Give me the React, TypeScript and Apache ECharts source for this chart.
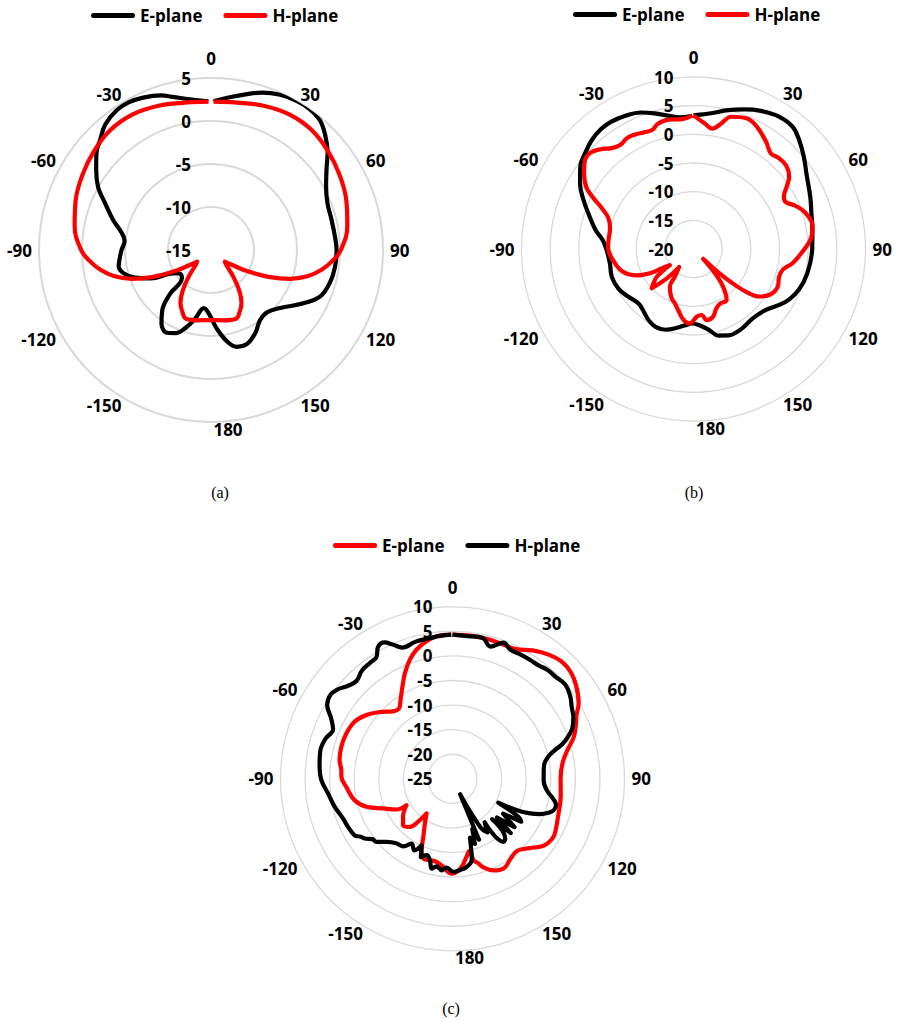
import React, { useEffect, useRef } from "react";
import * as echarts from "echarts";

// ---------- tick labels ----------
const angleTicks = [0, 30, 60, 90, 120, 150, 180, 210, 240, 270, 300, 330];
const angleTickLabels = ["0", "30", "60", "90", "120", "150", "180", "-150", "-120", "-90", "-60", "-30"];
const legendNames = ["E-plane", "H-plane"];
const captions = ["(a)", "(b)", "(c)"];

// ---------- panel (a) ----------
const aRange = [-15, 5];
const aEAngles = [1, 7, 13, 18, 24, 30, 35, 40, 45, 50, 55, 61, 68, 76, 84, 90, 98, 105, 113, 120, 130, 138, 145, 152, 159, 165, 170, 176, 181, 187, 193, 198, 203, 208, 214, 219, 223, 226, 231, 236, 240, 245, 250, 255, 260, 264, 270, 276, 281, 287, 294, 299, 305, 310, 315, 320, 326, 331, 336, 342, 346, 352, 359];
const aEValues = [2.3, 2.9, 3.6, 4.25, 4.75, 5.0, 5.0, 4.7, 3.8, 2.7, 1.4, 0.3, -0.4, -0.55, -0.5, -0.4, -0.45, -0.65, -1.2, -2.6, -4.5, -5.25, -5.05, -4.05, -3.3, -3.35, -4.2, -5.9, -7.4, -8.2, -6.8, -5.5, -4.5, -4.1, -4.7, -6.0, -8.0, -10.3, -10.5, -10.2, -9.5, -7.2, -5.6, -4.5, -4.1, -4.3, -4.6, -4.9, -4.4, -3.1, -1.5, 0.0, 1.3, 2.4, 3.2, 4.1, 4.6, 4.65, 4.4, 3.9, 3.35, 2.7, 2.3];
const aHAngles = [1, 10, 20, 30, 40, 50, 60, 70, 80, 90, 95, 100, 105, 110, 115, 120, 125, 130, 135, 140, 145, 150, 155, 160, 170, 180, 190, 200, 205, 210, 215, 220, 225, 230, 235, 240, 245, 250, 255, 260, 265, 270, 280, 290, 300, 310, 320, 330, 340, 350, 359];
const aHValues = [2.25, 2.4, 2.85, 3.2, 3.2, 2.8, 2.3, 1.75, 1.1, 0.1, -0.8, -1.9, -3.3, -5.2, -7.6, -10.0, -11.9, -12.9, -12.4, -11.0, -9.3, -7.9, -7.1, -6.5, -6.7, -6.85, -6.7, -6.5, -7.1, -7.9, -9.3, -11.0, -12.4, -12.9, -11.9, -10.0, -7.6, -5.2, -3.3, -1.9, -0.8, 0.1, 1.1, 1.75, 2.3, 2.8, 3.2, 3.2, 2.85, 2.4, 2.25];

// ---------- panel (b) ----------
const bRange = [-20, 10];
const bEAngles = [0, 4, 8, 14, 20, 26, 33, 39, 44, 50, 57, 66, 73, 81, 90, 102, 111, 120, 130, 140, 149, 158, 164, 169, 176, 181, 186, 193, 199, 206, 212, 218, 225, 234, 242, 251, 260, 267, 272, 276, 281, 287, 294, 300, 306, 312, 317, 322, 327, 333, 339, 344, 349, 354, 359.5];
const bEValues = [3.3, 3.55, 3.95, 4.95, 5.9, 6.8, 7.5, 7.45, 6.5, 5.1, 3.55, 2.3, 1.5, 1.0, 0.7, 0.3, -0.3, -1.5, -3.5, -4.1, -3.75, -3.75, -4.3, -5.6, -6.7, -7.0, -6.65, -5.8, -5.1, -4.9, -5.3, -6.0, -6.5, -5.9, -5.2, -4.95, -5.2, -5.0, -4.6, -4.0, -2.6, -1.1, 1.0, 2.85, 4.4, 5.3, 6.0, 6.4, 6.45, 6.1, 5.5, 4.6, 3.7, 3.1, 3.25];
const bHAngles = [0, 5, 9, 12, 16, 22, 27, 34, 39, 43, 48, 53, 56, 60, 63, 67, 72, 79, 85, 91, 98, 103, 108, 114, 121, 126, 129, 131, 133, 135.5, 138.5, 142, 147, 154, 159, 164, 169.5, 173, 177, 183, 188, 194, 199, 204, 212, 214, 218.7, 222, 226.8, 230, 233, 235.8, 238.7, 241, 245, 252, 260, 271, 276, 284, 290, 294, 297, 300, 305, 309, 313, 317, 321, 325, 329, 333, 337, 341, 344, 349, 355, 359.5];
const bHValues = [3.3, 2.0, 1.25, 2.2, 4.0, 4.6, 4.1, 2.6, 1.45, 1.75, 1.75, 0.9, -0.35, -1.8, -1.95, -0.7, 0.5, 1.15, 0.55, -0.9, -2.5, -4.0, -4.3, -3.9, -4.5, -5.9, -8.0, -10.5, -13.5, -17.6, -14.3, -11.6, -9.4, -9.4, -8.9, -7.7, -7.4, -8.4, -8.2, -7.0, -7.5, -9.0, -10.0, -10.6, -12.2, -14.2, -16.0, -13.3, -10.0, -11.0, -12.0, -15.0, -13.5, -11.3, -9.1, -7.1, -6.05, -5.1, -5.1, -5.0, -4.2, -2.5, -0.4, 1.6, 3.3, 4.4, 4.6, 3.8, 2.65, 2.2, 2.55, 2.4, 2.1, 2.0, 2.7, 3.0, 2.75, 3.25];

// ---------- panel (c) ----------
const cRange = [-25, 10];
const cEAngles = [0, 7, 14, 21, 26, 32, 38, 43, 48, 53, 59, 63, 66, 71, 76, 82, 90, 99, 108, 116, 120, 124, 127, 132, 138, 144, 150, 156, 161, 163, 165.5, 166.5, 170, 174, 177.5, 180.5, 186, 191, 195.5, 200, 203.4, 206.7, 211.7, 216.8, 218.3, 221.6, 226.8, 232.4, 240.2, 241.3, 246.9, 252, 257.7, 265.7, 271, 274.5, 279.5, 286, 293, 300.4, 306.6, 312.5, 318.6, 323, 326.7, 331.6, 335.8, 340.3, 344.5, 349.3, 353.6, 359.5];
const cEValues = [4.35, 4.35, 4.3, 4.2, 4.35, 5.8, 7.0, 7.6, 7.4, 6.5, 4.95, 3.3, 2.5, 1.1, -0.9, -2.4, -3.0, -2.7, -2.3, -1.6, -1.3, -1.6, -2.2, -3.9, -5.3, -4.9, -4.0, -4.6, -6.0, -7.0, -7.9, -10.0, -8.8, -7.0, -6.0, -5.7, -7.0, -7.8, -7.8, -7.7, -9.2, -11.8, -14.3, -16.2, -14.3, -11.9, -11.2, -12.3, -14.2, -12.0, -9.65, -6.6, -4.6, -3.3, -2.4, -2.3, -1.7, -1.45, -1.5, -1.95, -3.2, -4.9, -6.7, -7.0, -5.75, -3.6, -1.4, 0.75, 2.3, 3.5, 4.2, 4.35];
const cHAngles = [0, 6, 12, 16, 20.5, 24, 29, 33, 37, 41, 45, 50, 55, 59, 63, 67, 70, 72.5, 74.5, 77, 81, 86, 91, 97, 101, 104, 107, 109.5, 112, 114, 116, 117.5, 120, 122, 124.5, 128, 131, 133, 135.5, 138.5, 141, 143.5, 147, 150, 153.7, 156.5, 158.5, 161, 163.5, 166.7, 170.8, 175.3, 179.5, 183.8, 186.8, 190.3, 193.1, 195.5, 198.7, 202, 205, 208, 212.3, 216, 221, 226.3, 230.3, 233, 235.8, 238, 240, 245.3, 250.1, 256.7, 263.3, 269.5, 276, 282, 287.5, 292.5, 296.5, 300.5, 304.5, 308, 311.5, 315.5, 320, 324.5, 328, 330.5, 333.5, 336, 339, 345, 351, 355, 359.5];
const cHValues = [4.35, 4.2, 4.35, 3.0, 4.6, 3.8, 3.85, 3.9, 3.95, 4.4, 4.5, 4.9, 4.25, 3.3, 2.6, 1.5, 0.0, -1.6, -3.5, -5.0, -6.1, -6.4, -6.45, -5.65, -4.2, -3.3, -3.4, -4.3, -5.8, -7.7, -10.4, -14.5, -9.5, -8.5, -12.5, -9.0, -13.0, -8.8, -13.5, -8.8, -8.5, -14.0, -12.0, -13.5, -21.5, -11.5, -14.0, -11.0, -12.5, -8.0, -6.85, -6.35, -6.05, -6.9, -6.25, -6.9, -6.25, -7.8, -8.6, -7.8, -10.1, -8.5, -9.4, -8.0, -7.6, -6.4, -4.9, -4.6, -3.4, -2.8, -2.0, -1.6, -1.3, -0.35, 0.5, 1.7, 2.2, 2.5, 2.1, 1.3, 2.6, 4.6, 5.15, 4.6, 3.5, 2.9, 3.7, 3.95, 4.2, 5.8, 6.0, 4.9, 3.6, 3.9, 4.0, 4.2, 4.35];

// ---------- layout / style ----------
const RED = "#ff0000";
const BLACK = "#000000";
const GRID = "#d9d9d9";
const FONT = '"Open Sans", "Liberation Sans", sans-serif';
const RADIUS = 172;
const LABEL_R = 179;
const LEGEND_ICON = "path://M2.5,0H41.5A2.5,2.5,0,0,1,41.5,5H2.5A2.5,2.5,0,0,1,2.5,0Z";

type SeriesDef = { name: string; angles: number[]; values: number[]; color: string };
type PanelDef = {
  left: number; top: number; width: number; height: number;
  cx: number; cy: number; range: number[]; gridWidth: number;
  legendLeft: number; legendTop: number;
  caption: string; captionX: number; captionY: number;
  series: SeriesDef[];
};

const panels: PanelDef[] = [
  {
    left: 0, top: 0, width: 449, height: 510, cx: 211, cy: 250, range: aRange, gridWidth: 2,
    legendLeft: 91, legendTop: 7, caption: captions[0], captionX: 220, captionY: 492,
    series: [
      { name: legendNames[0], angles: aEAngles, values: aEValues, color: BLACK },
      { name: legendNames[1], angles: aHAngles, values: aHValues, color: RED },
    ],
  },
  {
    left: 449, top: 0, width: 449, height: 510, cx: 244.5, cy: 249, range: bRange, gridWidth: 1.3,
    legendLeft: 124, legendTop: 6, caption: captions[1], captionX: 245, captionY: 492,
    series: [
      { name: legendNames[0], angles: bEAngles, values: bEValues, color: BLACK },
      { name: legendNames[1], angles: bHAngles, values: bHValues, color: RED },
    ],
  },
  {
    left: 225, top: 520, width: 449, height: 502, cx: 227.5, cy: 258.8, range: cRange, gridWidth: 1.3,
    legendLeft: 108, legendTop: 17, caption: captions[2], captionX: 226, captionY: 488,
    series: [
      { name: legendNames[0], angles: cEAngles, values: cEValues, color: RED },
      { name: legendNames[1], angles: cHAngles, values: cHValues, color: BLACK },
    ],
  },
];

function buildOption(p: PanelDef): any {
  const labelGraphics = angleTicks.map((a, i) => {
    const rad = (a * Math.PI) / 180;
    const s = Math.sin(rad);
    let x = p.cx + LABEL_R * s;
    let y = p.cy - LABEL_R * Math.cos(rad);
    const align = Math.abs(s) < 0.3 ? "center" : s > 0 ? "left" : "right";
    if (a === 0) y -= 12.7;
    if (a === 180) x += 17;
    return {
      type: "text", x, y, silent: true,
      style: {
        text: angleTickLabels[i], fill: "#000", align, verticalAlign: "middle",
        fontFamily: FONT, fontWeight: "bold", fontSize: 17,
      },
    };
  });
  return {
    animation: false,
    backgroundColor: "#ffffff",
    textStyle: { fontFamily: FONT },
    legend: {
      left: p.legendLeft, top: p.legendTop, orient: "horizontal", padding: 0,
      itemWidth: 44, itemHeight: 5, itemGap: 21, selectedMode: false,
      icon: LEGEND_ICON,
      data: legendNames,
      textStyle: { fontFamily: FONT, fontWeight: "bold", fontSize: 17, color: "#000" },
    },
    polar: { center: [p.cx, p.cy], radius: RADIUS },
    angleAxis: {
      type: "value", min: 0, max: 360, interval: 30, startAngle: 90, clockwise: true,
      axisLine: { show: false }, axisTick: { show: false }, axisLabel: { show: false },
      splitLine: { show: false },
    },
    radiusAxis: {
      type: "value", min: p.range[0], max: p.range[1], interval: 5,
      axisLine: { show: false }, axisTick: { show: false },
      axisLabel: {
        inside: true, margin: 20, color: "#000",
        fontFamily: FONT, fontWeight: "bold", fontSize: 17,
      },
      splitLine: { show: true, lineStyle: { color: GRID, width: p.gridWidth } },
    },
    graphic: [
      ...labelGraphics,
      {
        type: "text", x: p.captionX, y: p.captionY, silent: true,
        style: {
          text: p.caption, fill: "#000", align: "center", verticalAlign: "middle",
          fontFamily: '"Liberation Serif", "Times New Roman", serif', fontSize: 16,
        },
      },
    ],
    series: p.series.map((s) => ({
      name: s.name,
      type: "line",
      coordinateSystem: "polar",
      symbol: "none",
      smooth: 0.4,
      silent: true,
      lineStyle: { color: s.color, width: 4.2, join: "round", cap: "butt" },
      itemStyle: { color: s.color },
      data: s.angles.map((a, i) => [s.values[i], a]),
    })),
  };
}

function PolarPanel({ panel }: { panel: PanelDef }) {
  const ref = useRef<HTMLDivElement>(null);
  useEffect(() => {
    if (!ref.current) return;
    const chart = echarts.init(ref.current, undefined, { renderer: "svg" });
    chart.setOption(buildOption(panel));
    return () => chart.dispose();
  }, [panel]);
  return (
    <div
      ref={ref}
      style={{ position: "absolute", left: panel.left, top: panel.top, width: panel.width, height: panel.height }}
    />
  );
}

export default function App() {
  return (
    <div style={{ position: "absolute", left: 0, top: 0, width: 898, height: 1022, background: "#fff", overflow: "hidden" }}>
      {panels.map((p, i) => (
        <PolarPanel key={i} panel={p} />
      ))}
    </div>
  );
}
